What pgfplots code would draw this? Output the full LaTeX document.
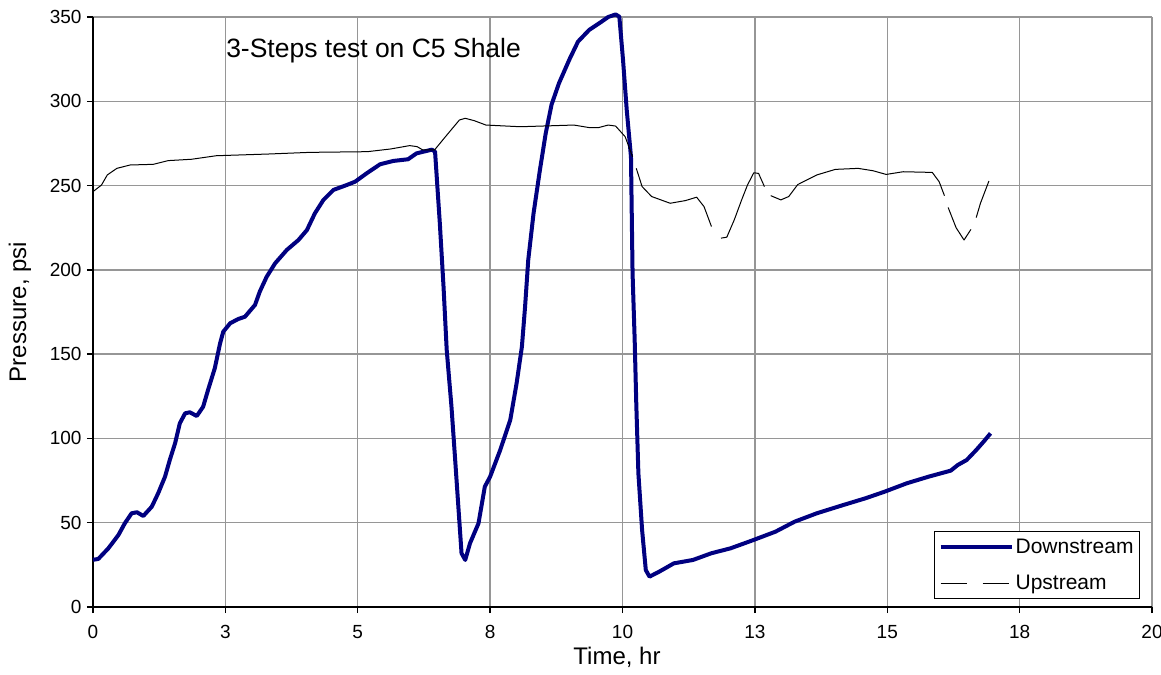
\documentclass[border=0pt]{standalone}
\usepackage{fontspec}
\setmainfont{Liberation Sans}
\usepackage{pgfplots}
\pgfplotsset{compat=1.18}
\definecolor{navy}{RGB}{0,0,128}
\definecolor{gridgray}{RGB}{150,150,150}
\begin{document}
\begin{tikzpicture}
\begin{axis}[name=ax, scale only axis, width=1059pt, height=590pt,
 xmin=0, xmax=20, ymin=0, ymax=350, clip=false,
 xtick={0,2.5,...,20}, xticklabels={0,3,5,8,10,13,15,18,20},
 ytick={0,50,...,350},
 grid=major, major grid style={gridgray, line width=1.3pt},
 axis x line*=bottom, axis y line*=left,
 axis line style={black, line width=1.6pt, -},
 tick align=outside, major tick length=6pt, tick style={black, line width=1.3pt},
 /pgf/number format/assume math mode=true,
 ticklabel style={font=\fontsize{19}{19}\selectfont},
 xticklabel style={yshift=-9pt},
 yticklabel style={xshift=-2pt},
 xlabel={Time, hr}, ylabel={Pressure, psi},
 label style={font=\fontsize{24}{24}\selectfont},
 xlabel style={at={(axis description cs:0.4948,-0.0847)}, anchor=center},
 ylabel style={at={(axis description cs:-0.069,0.5)}, anchor=center},
 unbounded coords=jump,
 legend cell align=left,
 legend style={at={(1,0)}, anchor=south east, xshift=-12pt, yshift=8pt,
   draw=black, line width=1pt, fill=white,
   font=\fontsize{21}{21}\selectfont, inner xsep=4pt, inner ysep=5pt,
   row sep=17pt, /tikz/every even column/.append style={column sep=4pt}},
]
\addplot[navy, line width=4pt, line join=round,
  legend image code/.code={\draw[navy, line width=4pt] (0pt,0pt) -- (71pt,0pt);}]
coordinates {
(0,28) (0.1,28.5) (0.29,34.8) (0.48,42.7) (0.6,49.6) (0.73,55.6) (0.83,56.2)
(0.95,54) (1.11,59.5) (1.23,67.4) (1.36,77.3) (1.45,87.2) (1.55,97.1) (1.64,109)
(1.74,114.9) (1.83,115.5) (1.96,113.3) (2.08,118.8) (2.18,129.5) (2.3,141.6)
(2.4,156.4) (2.46,163.3) (2.59,168.3) (2.74,170.8) (2.87,172.2) (3.06,179.2)
(3.15,187.1) (3.28,195.9) (3.44,203.9) (3.66,211.8) (3.88,217.7) (4.04,223.6)
(4.19,233.5) (4.35,241.4) (4.54,247.4) (4.79,250.3) (4.95,252.3) (5.17,257.3)
(5.42,262.6) (5.67,264.6) (5.95,265.6) (6.11,269.1) (6.40,271.3) (6.46,270.1)
(6.55,227.6) (6.62,190) (6.68,152.5) (6.77,118.8) (6.84,87.2) (6.90,59.5)
(6.96,31.9) (7.03,27.9) (7.12,37.8) (7.28,49.6) (7.40,71.4) (7.50,77.3)
(7.69,93.1) (7.88,110.9) (8.00,132.7) (8.10,154.4) (8.16,178.1) (8.22,205.9)
(8.32,233.5) (8.44,259.2) (8.55,281) (8.66,298) (8.80,310.7) (9.0,325)
(9.16,335.4) (9.37,342.3) (9.58,346.7) (9.73,350) (9.87,351.5) (9.94,350.2)
(10.01,324.5) (10.08,294.8) (10.16,267.1) (10.19,198) (10.23,158.4)
(10.26,120.8) (10.30,79.3) (10.37,45.7) (10.44,21.9) (10.51,18) (10.69,20.9)
(10.97,25.9) (11.33,27.9) (11.68,31.9) (12.04,34.8) (12.47,39.7) (12.89,44.7)
(13.25,50.6) (13.67,55.6) (14.17,60.5) (14.59,64.5) (14.95,68.4) (15.37,73.4)
(15.78,77.3) (16.2,80.9) (16.33,84.2) (16.5,87.2) (16.68,93.1) (16.82,98.1)
(16.95,103)
};
\addlegendentry{Downstream}
\addplot[black, line width=1pt, line join=round,
  legend image code/.code={\draw[black, line width=1pt, dash pattern=on 26pt off 16pt] (0pt,0pt) -- (71pt,0pt);}]
coordinates {
(0,246.4) (0.16,250.3) (0.27,256.3) (0.45,260.2) (0.70,262.2) (1.14,262.6)
(1.42,264.8) (1.86,265.6) (2.33,267.7) (3.30,268.7) (4.10,269.7) (5.18,270.1)
(5.62,271.7) (5.98,273.7) (6.12,273.1) (6.23,271.1) (6.45,271.1) (6.63,278)
(6.92,288.9) (7.03,289.9) (7.20,288.5) (7.42,285.9) (8.07,284.9) (9.08,285.9)
(9.37,284.4) (9.55,284.4) (9.73,285.9) (9.87,285.3) (10.05,279) (10.19,267.1)
(10.22,nan)
(10.26,260.2) (10.37,249.4) (10.55,243.5) (10.90,239.5) (11.19,241.1)
(11.40,243.1) (11.54,237.5) (11.68,225.7)
(11.77,nan)
(11.86,218.8) (11.97,219.4) (12.11,229.6) (12.25,241.5) (12.36,250.3)
(12.48,257.6) (12.57,257.2) (12.68,249.4)
(12.73,nan)
(12.80,244) (12.99,241.5) (13.14,243.5) (13.31,250.6) (13.67,256.3)
(14.02,259.6) (14.45,260.2) (14.73,258.8) (14.98,256.6) (15.30,258.2)
(15.85,257.8) (15.98,252.3) (16.08,244)
(16.11,nan)
(16.15,237) (16.30,225) (16.45,217.7) (16.58,224)
(16.63,nan)
(16.68,231) (16.76,239.5) (16.92,252.7)
};
\addlegendentry{Upstream}
\node[anchor=west, font=\fontsize{26.5}{26.5}\selectfont] at (axis cs:2.45,330) {3-Steps test on C5 Shale};
\end{axis}
\pgfresetboundingbox
\path ([shift={(-93pt,-68pt)}]ax.south west) rectangle ([shift={(9pt,17pt)}]ax.north east);
\end{tikzpicture}
\end{document}
